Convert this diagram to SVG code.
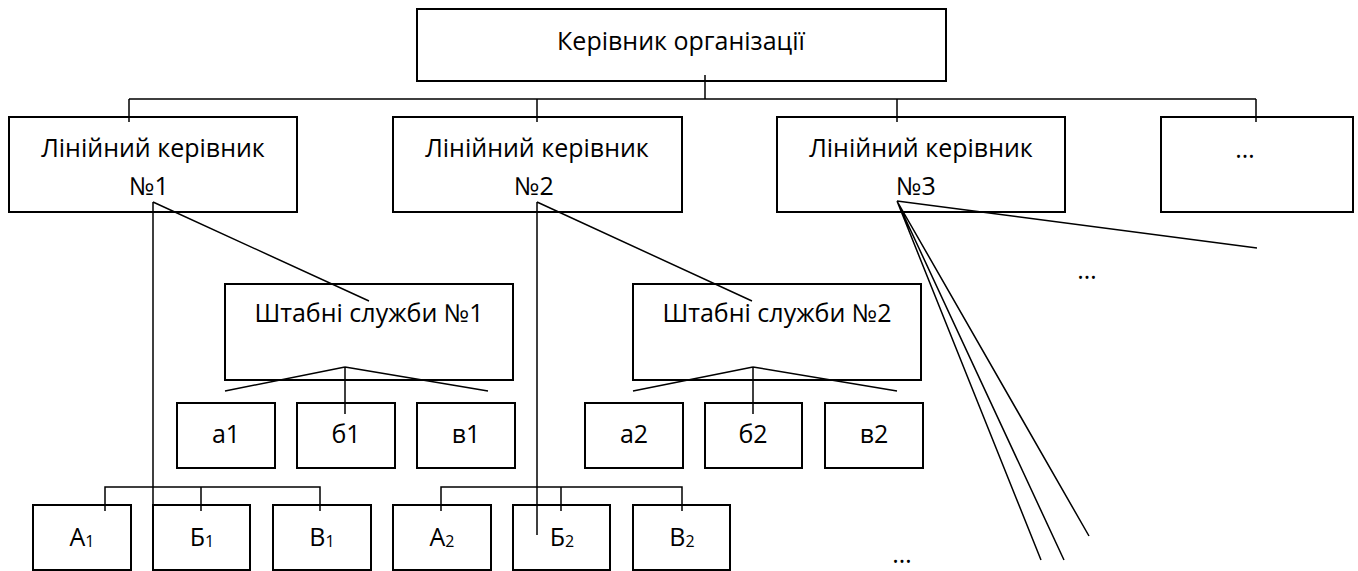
<svg xmlns="http://www.w3.org/2000/svg" width="1358" height="571" viewBox="0 0 1358 571">
<style>
.box{fill:#fff;stroke:#000;stroke-width:2}
.ln{fill:none;stroke:#000;stroke-width:1.5}
text{font-family:"Open Sans","Noto Sans",sans-serif;font-size:25px;fill:#000;text-anchor:middle}
.sub{font-size:16px}
</style>
<rect width="1358" height="571" fill="#fff"/>
<g id="head"><rect class="box" x="417" y="9" width="529" height="72"/><text x="681" y="50">Керівник організації</text></g>
<g id="lm1"><rect class="box" x="9" y="117" width="288" height="95"/><text x="153" y="157">Лінійний керівник</text><text x="149" y="195">№1</text></g>
<g id="lm2"><rect class="box" x="393" y="117" width="289" height="95"/><text x="537" y="157">Лінійний керівник</text><text x="534" y="195">№2</text></g>
<g id="lm3"><rect class="box" x="777" y="117" width="288" height="95"/><text x="921" y="157">Лінійний керівник</text><text x="916" y="195">№3</text></g>
<g id="lm4"><rect class="box" x="1161" y="117" width="192" height="95"/><text x="1245" y="158">…</text></g>
<g id="st1"><rect class="box" x="225" y="284" width="288" height="96"/><text x="369" y="322">Штабні служби №1</text></g>
<g id="st2"><rect class="box" x="633" y="284" width="288" height="96"/><text x="777" y="322">Штабні служби №2</text></g>
<g id="a1"><rect class="box" x="177" y="403" width="98" height="65"/><text x="226" y="443">а1</text></g>
<g id="b1"><rect class="box" x="297" y="403" width="98" height="65"/><text x="346" y="443">б1</text></g>
<g id="v1"><rect class="box" x="417" y="403" width="98" height="65"/><text x="466" y="443">в1</text></g>
<g id="a2"><rect class="box" x="585" y="403" width="98" height="65"/><text x="634" y="443">а2</text></g>
<g id="b2"><rect class="box" x="705" y="403" width="97" height="65"/><text x="753" y="443">б2</text></g>
<g id="v2"><rect class="box" x="825" y="403" width="98" height="65"/><text x="874" y="443">в2</text></g>
<g id="A1"><rect class="box" x="33" y="505" width="98" height="65"/><text x="82" y="546">А<tspan class="sub" dy="1">1</tspan></text></g>
<g id="B1"><rect class="box" x="153" y="505" width="97" height="65"/><text x="202" y="546">Б<tspan class="sub" dy="1">1</tspan></text></g>
<g id="V1"><rect class="box" x="273" y="505" width="98" height="65"/><text x="322" y="546">В<tspan class="sub" dy="1">1</tspan></text></g>
<g id="A2"><rect class="box" x="393" y="505" width="98" height="65"/><text x="442" y="546">А<tspan class="sub" dy="1">2</tspan></text></g>
<g id="B2"><rect class="box" x="513" y="505" width="97" height="65"/><text x="562" y="546">Б<tspan class="sub" dy="1">2</tspan></text></g>
<g id="V2"><rect class="box" x="633" y="505" width="97" height="65"/><text x="682" y="546">В<tspan class="sub" dy="1">2</tspan></text></g>
<g id="dots1"><text x="1087" y="279">…</text></g>
<g id="dots2"><text x="902" y="563">…</text></g>
<g id="connectors">
<path class="ln" d="M705 75V99M129 99H1256M129 99V122M537 99V122M897 99V122M1256 99V122"/>
<path class="ln" d="M153 202V535M153 202L369 301M537 202V535M537 202L752 301"/>
<path class="ln" d="M345 367V414M345 367L225 391M345 367L488 391M753 367V414M753 367L633 391M753 367L897 391"/>
<path class="ln" d="M105 511V487H320V511M201 487V511M441 511V487H682V511M561 487V511"/>
<path class="ln" d="M897 201L1257 248M897 201L1041 560M897 201L1064 560M897 201L1089 536"/>
</g>
</svg>
